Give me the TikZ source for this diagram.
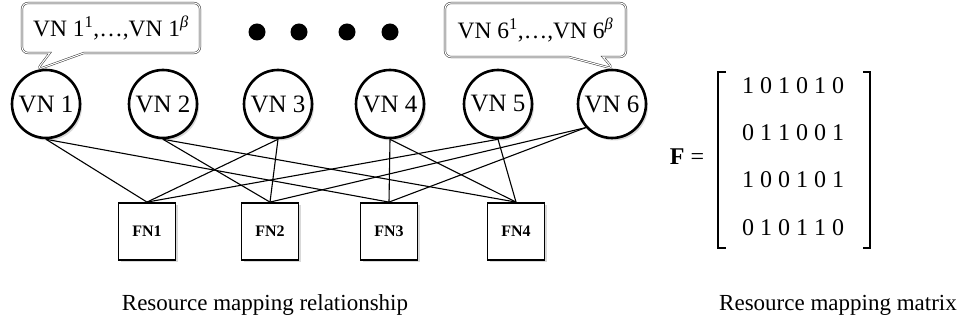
\documentclass[tikz,border=0pt]{standalone}
\usepackage{fontspec}
\setmainfont{Liberation Serif}
\usetikzlibrary{shapes.callouts, shadows}
\tikzstyle{vn} = [circle, draw, line width=2.6pt, minimum size=68, inner sep=0pt,
    fill=white, drop shadow={shadow xshift=2pt, shadow yshift=-2.5pt, opacity=0.3},
    font=\fontsize{25}{29}\selectfont]
\tikzstyle{fn} = [rectangle, draw, line width=1.8pt, minimum size=57, inner sep=0pt,
    fill=white, drop shadow={shadow xshift=2pt, shadow yshift=-2.5pt, opacity=0.3},
    font=\fontsize{16}{19}\selectfont\bfseries]
\tikzstyle{bubble} = [rectangle callout, rounded corners=6pt, draw=black!80, double=white,
    double distance=1.1pt, line width=0.5pt, fill=white, callout pointer width=34pt,
    font=\fontsize{23.5}{28}\selectfont]
\tikzstyle{dot} = [circle, fill, minimum size=17, inner sep=0pt]
\tikzstyle{link} = [draw, line width=1.1pt]
\tikzstyle{digits} = [font=\fontsize{24}{28}\selectfont, inner sep=0pt]
\tikzstyle{caption} = [font=\fontsize{23}{27}\selectfont]

\begin{document}
\begin{tikzpicture}[x=1pt, y=-1pt]
        \useasboundingbox (0,0) rectangle (961,328);
        % Place nodes
        \foreach \x [count=\i] in {46,163,278,390,498,612}
            \node [vn] (VN\i) at (\x,104) {VN \i};
        \foreach \x [count=\i] in {147,270,389,516}
            \node [fn] (FN\i) at (\x,231.5) {FN\i};
        \foreach \x [count=\i] in {257,299,347,390}
            \node [dot] (dot\i) at (\x,32) {};
        % Callouts
        \node [bubble, minimum width=178, minimum height=50,
            callout absolute pointer={(VN1.105)}] (first) at (111,28)
            {VN 1\textsuperscript{1},\ldots,VN 1\textsuperscript{\textit{β}}};
        \node [bubble, minimum width=181, minimum height=54,
            callout absolute pointer={(VN6.88)}] (last) at (535.5,30)
            {VN 6\textsuperscript{1},\ldots,VN 6\textsuperscript{\textit{β}}};
        % Draw edges
        \foreach \v/\a/\f in {1/south/1, 3/south/1, 5/south/1,
                              2/south/2, 3/south/2, 6/222/2,
                              1/south/3, 4/south/3, 6/222/3,
                              2/south/4, 4/south/4, 5/south/4}
            \path [link] (VN\v.\a) -- (FN\f.north);
        % Matrix
        \node [font=\fontsize{24}{28}\selectfont] (Flabel) at (687,157) {\textbf{F} =};
        \foreach \row [count=\i] in {1 0 1 0 1 0, 0 1 1 0 0 1, 1 0 0 1 0 1, 0 1 0 1 1 0}
            \node [digits] (row\i) at (793,38+47.3*\i) {\row};
        \draw [line width=2.2pt] (726,72) -- (718,72) -- (718,248) -- (726,248);
        \draw [line width=2.2pt] (863,72) -- (870,72) -- (870,248) -- (863,248);
        % Captions
        \node [caption] (relcap) at (265,305) {Resource mapping relationship};
        \node [caption] (matcap) at (838,305) {Resource mapping matrix};
    \end{tikzpicture}
\end{document}
